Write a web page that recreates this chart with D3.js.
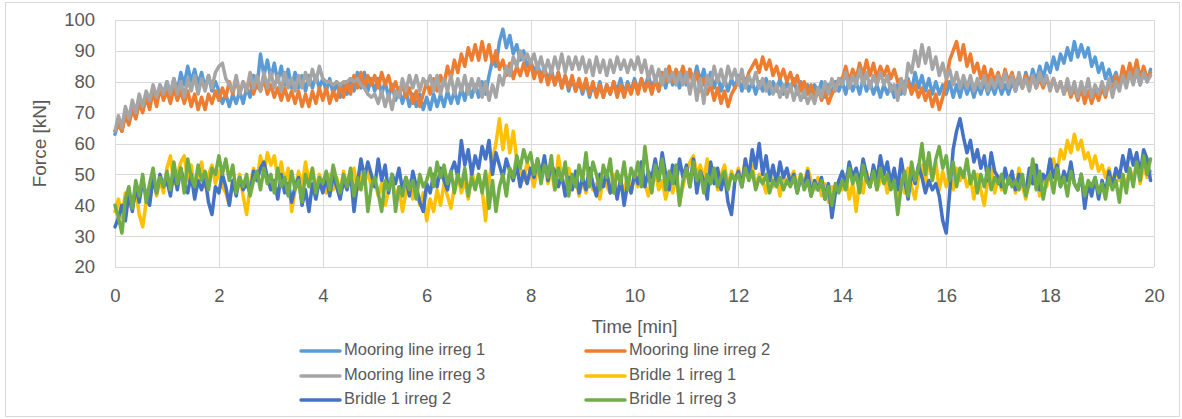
<!DOCTYPE html>
<html>
<head>
<meta charset="utf-8">
<script src="https://cdn.jsdelivr.net/npm/d3@7"></script>
<style>
  html, body { margin: 0; padding: 0; background: #fff; }
  svg { display: block; font-family: "Liberation Sans", Arial, sans-serif; }
</style>
</head>
<body>
<svg id="chart" width="1182" height="419"></svg>
<script>
// ---- Data (15 samples per minute) ----
const xTicks = [0, 2, 4, 6, 8, 10, 12, 14, 16, 18, 20];
const yTicks = [20, 30, 40, 50, 60, 70, 80, 90, 100];
const seriesNames = ["Mooring line irreg 1", "Mooring line irreg 2", "Mooring line irreg 3",
                     "Bridle 1 irreg 1", "Bridle 1 irreg 2", "Bridle 1 irreg 3"];
const seriesColors = ["#5B9BD5", "#ED7D31", "#A5A5A5", "#FFC000", "#4472C4", "#70AD47"];
const samplesPerMinute = 15;

const mooring1 = [
63,67,64,70,67,72,69,74,71,76,73,78,74,79,76,
80,76,81,77,83,79,85,80,84,79,83,78,82,77,80,
77,73,76,72,76,73,77,73,78,75,82,78,89,82,87,
81,86,80,85,79,84,78,83,78,82,77,82,78,82,78,
81,77,81,76,80,75,79,76,81,77,83,78,83,77,81,
77,81,76,80,75,79,74,78,73,77,72,76,72,76,71,
75,71,76,72,76,72,77,73,77,73,78,74,79,75,79,
75,80,76,82,87,85,93,97,91,95,89,92,87,90,85,
87,83,86,81,85,80,84,79,83,78,82,77,81,77,80,
76,80,75,79,76,80,75,79,76,80,77,81,76,80,77,
81,77,81,78,82,78,81,77,82,78,83,79,82,78,83,
79,84,80,85,80,84,79,83,78,82,77,81,77,81,78,
82,77,81,77,80,76,80,77,81,76,80,77,81,76,80,
77,81,76,80,75,79,75,79,76,80,75,79,76,80,77,
80,76,81,77,80,76,81,77,80,76,79,75,79,76,79,
75,79,76,80,81,77,83,78,82,77,81,76,80,76,79,
76,80,75,79,75,80,76,79,75,79,76,80,76,79,76,
80,76,79,76,80,77,81,78,83,79,84,80,85,81,86,
83,88,84,89,86,91,87,93,88,92,88,91,85,88,83,
86,81,84,80,83,79,83,80,84,80,83,79,83,80,84];

const mooring2 = [
64,66,64,69,66,71,68,73,70,75,71,77,72,78,74,
77,73,78,74,77,73,77,72,76,71,75,71,76,73,77,
74,78,75,80,76,81,76,80,77,81,76,80,77,81,76,
79,75,78,74,78,74,77,73,77,72,76,72,77,73,78,
74,78,73,77,74,79,75,80,76,82,78,83,78,82,79,
82,78,83,79,82,77,80,76,79,75,78,73,77,72,76,
80,76,81,77,82,79,85,81,87,83,89,85,91,87,92,
87,93,87,92,86,90,84,87,82,86,81,85,82,86,82,
86,81,85,80,84,79,83,79,83,78,82,78,82,77,81,
77,81,76,80,75,79,75,79,76,80,75,79,75,79,76,
80,76,81,77,80,76,81,77,83,80,85,80,84,81,85,
80,84,79,83,77,81,76,79,74,78,73,77,72,76,78,
80,82,79,83,85,87,83,88,84,87,82,85,81,84,80,
83,79,82,77,80,76,79,75,78,74,77,73,76,78,81,
81,85,80,84,81,86,82,87,82,86,81,85,82,85,81,
84,80,81,77,80,76,79,75,78,74,77,72,76,71,75,
80,87,90,93,87,92,85,89,83,86,81,85,80,84,80,
83,79,84,80,83,79,82,78,82,79,82,78,81,78,81,
78,81,77,80,76,79,75,78,74,78,73,77,73,77,74,
78,75,80,77,82,79,85,81,86,82,87,81,85,81,83];

const mooring3 = [
64,69,65,72,68,74,70,76,72,77,74,79,75,79,76,
80,76,81,76,80,75,81,77,82,76,81,77,82,78,83,
85,86,81,79,77,82,76,80,77,83,78,82,77,83,78,
83,78,82,77,83,78,81,77,82,78,83,79,84,80,85,
81,80,80,79,80,79,80,80,81,80,81,79,78,76,75,
76,73,77,72,76,71,77,75,81,77,82,78,82,77,81,
79,82,77,82,76,81,77,82,76,81,77,82,76,81,77,
81,75,80,74,79,75,82,79,85,82,88,85,90,87,89,
86,89,84,88,83,87,83,88,84,89,83,88,84,88,84,
88,83,87,82,88,83,87,82,87,83,88,84,87,83,87,
84,88,83,87,81,85,80,84,79,84,80,83,79,83,79,
83,76,82,74,81,73,82,79,85,80,84,79,85,81,84,
79,84,78,82,79,83,78,81,77,80,76,79,75,79,75,
79,74,78,74,77,73,76,73,78,75,80,76,81,77,81,
79,83,78,82,79,84,79,83,78,82,79,83,79,82,77,
79,74,81,76,86,83,90,85,92,86,91,84,88,82,86,
81,84,79,83,78,82,78,82,77,81,78,82,77,81,78,
82,78,83,78,82,77,83,78,81,77,82,78,83,79,82,
77,81,77,80,76,81,76,80,75,80,76,81,75,79,76,
80,76,81,75,80,77,82,78,83,79,84,79,83,80,82];

const bridle1 = [
38,42,36,44,40,39,45,37,33,41,45,49,43,48,44,
52,56,47,50,54,56,48,53,45,51,54,46,50,53,47,
51,46,44,40,48,45,50,43,37,46,52,48,56,50,57,
53,56,49,54,47,52,38,45,51,46,54,48,52,45,50,
47,44,50,45,49,44,51,46,48,52,45,50,47,51,46,
48,43,47,40,45,49,42,46,38,44,48,42,46,40,44,
35,42,38,45,40,47,43,39,46,50,44,48,42,51,46,
50,45,35,48,55,60,68,58,66,57,64,55,52,48,54,
50,46,53,48,55,47,51,45,56,49,44,52,46,50,43,
48,44,50,45,47,42,49,46,44,50,43,47,45,49,44,
50,46,52,47,43,49,51,45,48,42,47,44,49,41,46,
51,54,56,50,53,48,55,47,52,45,50,53,46,51,48,
52,47,55,49,53,46,50,48,44,51,46,49,43,50,47,
49,51,46,50,47,52,48,45,49,43,47,41,46,44,48,
45,50,42,47,38,49,44,51,46,52,45,48,50,44,49,
47,41,50,44,52,46,42,49,53,47,56,48,54,45,51,
46,50,45,52,48,51,46,49,42,50,45,40,48,52,44,
49,45,51,47,50,44,52,46,42,50,47,51,43,49,46,
52,55,50,58,55,61,57,63,58,61,55,57,52,56,51,
53,49,52,47,51,48,50,46,52,48,54,47,53,49,51];

const bridle2 = [
33,36,40,35,44,38,46,41,48,43,40,49,44,50,46,
48,43,51,45,52,47,44,50,42,48,45,49,41,37,46,
44,50,46,40,48,43,49,45,47,44,51,48,52,54,49,
45,48,42,50,44,47,41,46,49,40,45,38,47,42,48,
44,49,43,50,46,42,48,45,51,38,47,55,49,54,50,
46,55,48,53,44,50,47,52,45,49,43,51,46,41,38,
47,44,50,46,52,48,45,51,54,49,61,53,58,50,56,
52,59,55,61,50,57,53,49,55,51,48,53,46,51,47,
52,49,55,50,56,48,53,51,46,50,43,49,45,51,44,
49,45,52,47,43,50,46,51,44,48,42,49,40,47,44,
50,47,54,46,51,49,55,48,57,50,45,53,47,55,49,
53,46,55,44,51,48,42,54,47,52,45,50,41,37,48,
51,46,55,49,58,52,60,50,56,48,53,47,54,49,52,
47,50,44,49,46,51,43,48,45,49,42,47,36,44,48,
51,46,54,49,52,47,55,50,46,53,48,56,50,54,47,
52,45,55,48,42,51,47,53,49,44,48,45,47,43,35,
31,44,58,64,68,62,57,61,54,58,52,56,48,57,51,
49,46,52,47,51,45,50,48,44,52,47,53,45,50,48,
55,49,53,46,51,48,54,47,45,50,39,47,43,49,42,
48,44,51,46,52,49,56,51,58,53,57,50,58,55,48];

const bridle3 = [
40,36,31,42,46,39,48,43,50,41,47,52,44,49,46,
51,45,54,47,52,44,55,49,46,53,48,51,45,52,50,
56,50,55,48,53,44,49,46,50,43,48,51,45,52,47,
50,44,52,46,49,43,51,45,48,41,50,46,52,44,49,
47,51,45,53,48,44,50,46,52,43,49,45,51,38,46,
49,44,38,48,45,50,38,46,43,49,45,48,42,50,46,
48,52,46,54,49,53,47,51,44,50,46,52,43,49,45,
50,44,51,39,48,38,46,50,43,52,49,56,52,58,54,
57,50,55,47,53,49,56,45,52,48,54,43,50,46,53,
48,57,46,54,50,45,53,49,55,44,51,47,54,45,52,
49,54,46,59,50,44,53,48,55,45,51,47,53,40,48,
52,46,54,48,51,44,50,47,52,46,49,51,45,50,48,
50,46,52,48,51,45,49,47,50,44,48,46,49,45,48,
46,49,44,50,45,48,43,47,45,48,42,46,40,47,44,
48,45,52,47,50,44,53,48,46,51,45,52,47,50,45,
48,37,46,51,43,54,48,52,60,50,57,48,55,59,52,
56,48,54,46,52,49,55,47,51,44,50,46,52,45,49,
47,50,44,49,46,48,45,50,43,47,55,45,51,42,48,
50,44,52,46,49,43,51,47,45,50,43,48,46,49,44,
47,42,49,45,48,41,50,44,52,46,54,48,56,50,55];

const seriesValues = [mooring1, mooring2, mooring3, bridle1, bridle2, bridle3];

// ---- Layout ----
const svg = d3.select("#chart");
const plot = { left: 115, right: 1154, top: 20, bottom: 267 };
const x = d3.scaleLinear().domain([0, 20]).range([plot.left, plot.right]);
const y = d3.scaleLinear().domain([20, 100]).range([plot.bottom, plot.top]);
const textColor = "#595959";
const gridColor = "#d9d9d9";

// outer chart border
svg.append("rect")
  .attr("x", 5.5).attr("y", 2.5).attr("width", 1174).attr("height", 414)
  .attr("fill", "none").attr("stroke", gridColor).attr("stroke-width", 1);

// gridlines
svg.append("g").selectAll("line").data(yTicks).join("line")
  .attr("x1", plot.left).attr("x2", plot.right)
  .attr("y1", d => Math.round(y(d)) + 0.5).attr("y2", d => Math.round(y(d)) + 0.5)
  .attr("stroke", gridColor).attr("stroke-width", 1);
svg.append("g").selectAll("line").data(xTicks).join("line")
  .attr("y1", plot.top).attr("y2", plot.bottom)
  .attr("x1", d => Math.round(x(d)) + 0.5).attr("x2", d => Math.round(x(d)) + 0.5)
  .attr("stroke", gridColor).attr("stroke-width", 1);

// axes (labels only, via d3 axes)
const yAxis = svg.append("g").attr("transform", `translate(${plot.left - 8},0)`)
  .call(d3.axisLeft(y).tickValues(yTicks).tickSize(0).tickPadding(12));
const xAxis = svg.append("g").attr("transform", `translate(0,${plot.bottom + 8})`)
  .call(d3.axisBottom(x).tickValues(xTicks).tickSize(0).tickPadding(12));
[yAxis, xAxis].forEach(a => {
  a.select(".domain").remove();
  a.selectAll("text").attr("fill", textColor)
    .style("font-size", "18.5px").style("font-family", "'Liberation Sans', Arial, sans-serif");
});
xAxis.selectAll("text").attr("dy", "0.35em").attr("y", 21);
yAxis.selectAll("text").attr("x", -12);

// axis titles
svg.append("text").attr("x", (plot.left + plot.right) / 2).attr("y", 328)
  .attr("text-anchor", "middle").attr("dominant-baseline", "middle")
  .attr("fill", textColor).style("font-size", "18.5px").text("Time [min]");
svg.append("text")
  .attr("transform", `translate(41,${(plot.top + plot.bottom) / 2}) rotate(-90)`)
  .attr("text-anchor", "middle").attr("dominant-baseline", "middle")
  .attr("fill", textColor).style("font-size", "19px").text("Force [kN]");

// series lines
const line = d3.line()
  .x((d, i) => x(i / samplesPerMinute))
  .y(d => y(d));
const plotG = svg.append("g");
seriesValues.forEach((vals, k) => {
  plotG.append("path").datum(vals)
    .attr("d", line)
    .attr("fill", "none")
    .attr("stroke", seriesColors[k])
    .attr("stroke-width", 3.5)
    .attr("stroke-linejoin", "round")
    .attr("stroke-linecap", "round");
});

// legend
const legendCols = [301, 586];
const legendRows = [351, 376, 400];
const legend = svg.append("g");
seriesNames.forEach((name, k) => {
  const cx = legendCols[k % 2];
  const cy = legendRows[Math.floor(k / 2)];
  legend.append("line")
    .attr("x1", cx).attr("x2", cx + 39).attr("y1", cy).attr("y2", cy)
    .attr("stroke", seriesColors[k]).attr("stroke-width", 3.5).attr("stroke-linecap", "round");
  legend.append("text")
    .attr("x", cx + 43).attr("y", cy).attr("dominant-baseline", "middle")
    .attr("fill", textColor).style("font-size", "16.5px").text(name);
});
</script>
</body>
</html>
